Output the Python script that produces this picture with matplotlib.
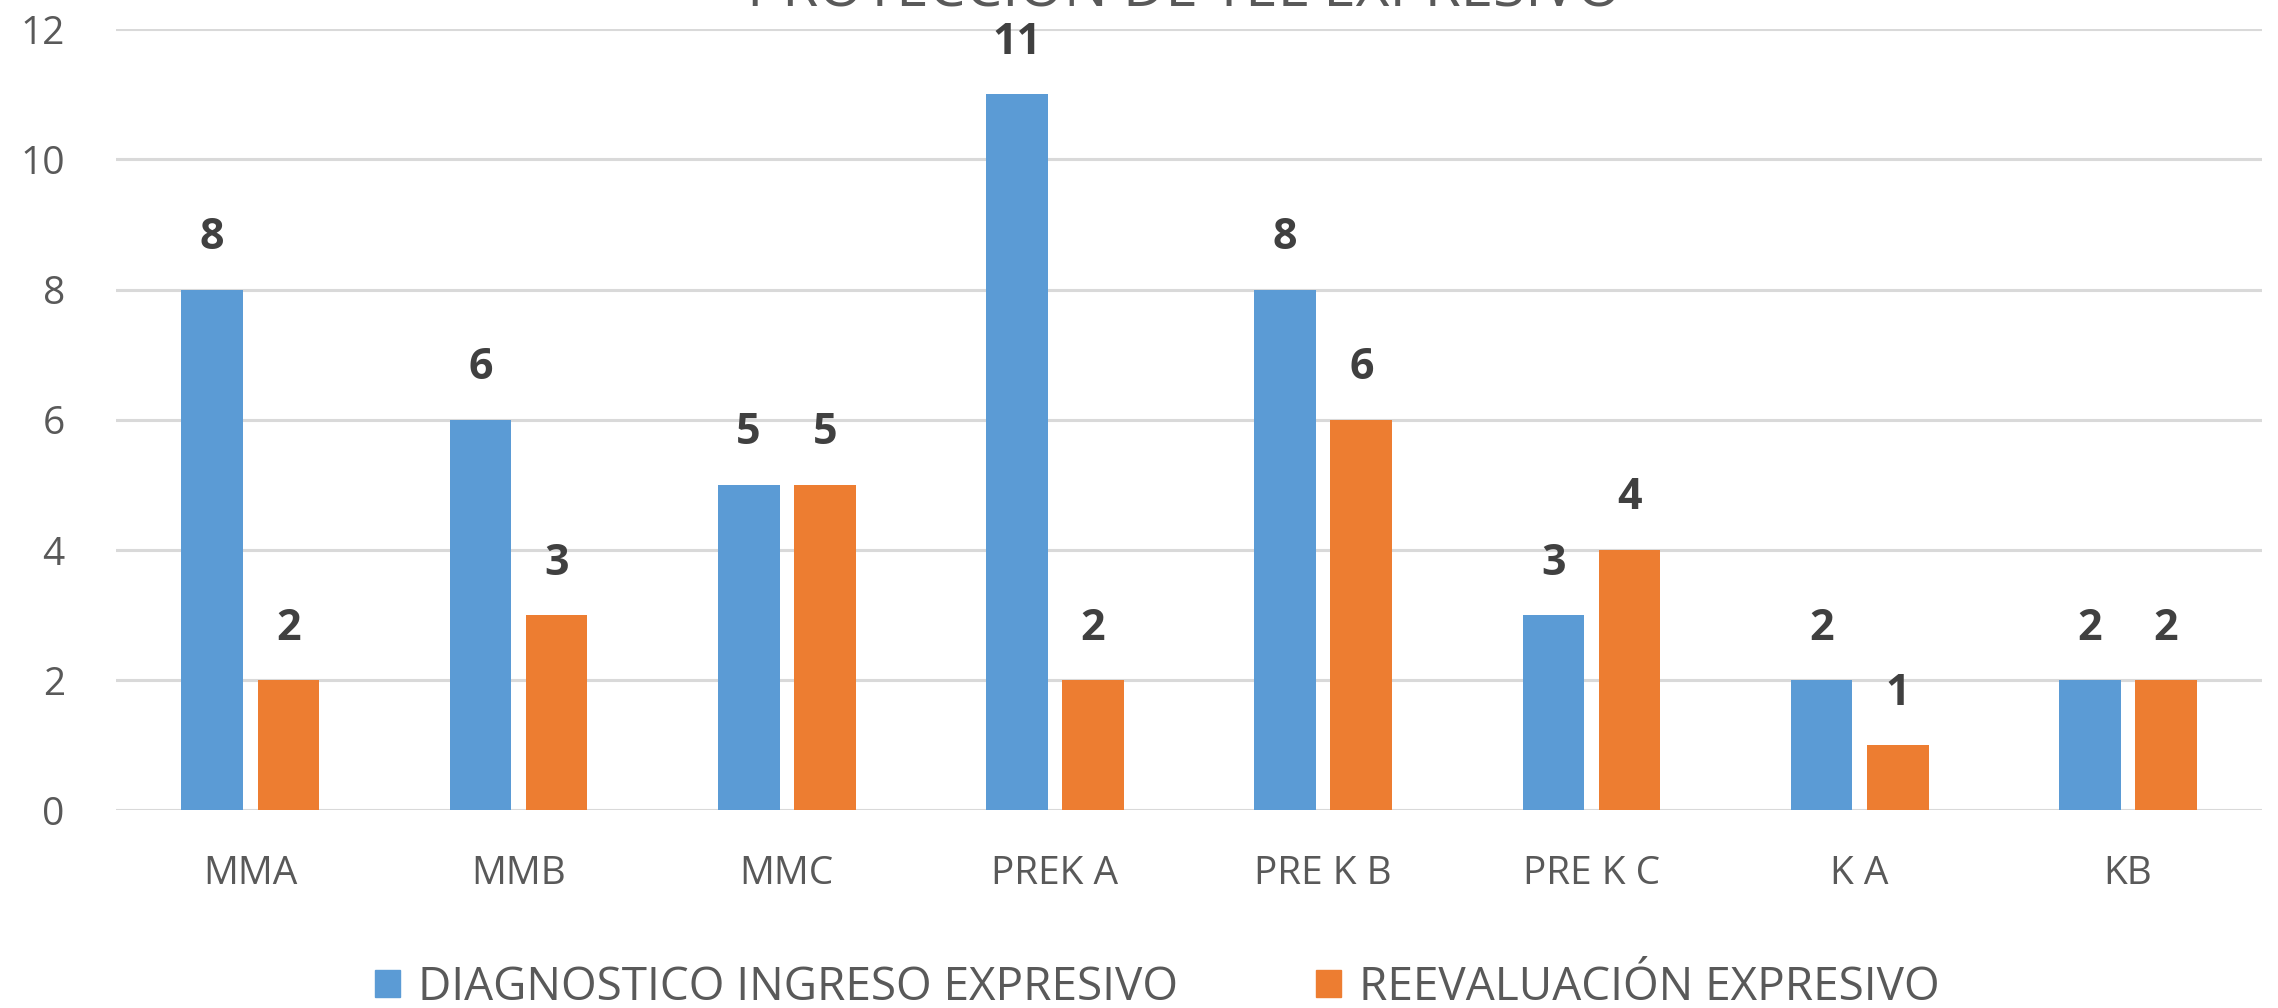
import numpy as np
import matplotlib.pyplot as plt
from matplotlib.patches import Patch

plt.rcParams['font.family'] = ['Open Sans', 'DejaVu Sans']

categorias = ['MMA', 'MMB', 'MMC', 'PREK A', 'PRE K B', 'PRE K C', 'K A', 'KB']
diagnostico = [8, 6, 5, 11, 8, 3, 2, 2]
reevaluacion = [2, 3, 5, 2, 6, 4, 1, 2]
series = ['DIAGNOSTICO INGRESO EXPRESIVO', 'REEVALUACIÓN EXPRESIVO']
titulo = 'PROYECCIÓN DE TEL EXPRESIVO'

azul = '#5B9BD5'
naranja = '#ED7D31'

fig = plt.figure(figsize=(22.78, 10.08), dpi=100)
ax = fig.add_axes([0.051, 0.196, 0.942, 0.775])

x = np.arange(len(categorias))
w = 0.23
off = 0.142
b1 = ax.bar(x - off, diagnostico, w, color=azul, zorder=3)
b2 = ax.bar(x + off, reevaluacion, w, color=naranja, zorder=3)

for bars in (b1, b2):
    for b in bars:
        ax.annotate(f'{int(b.get_height())}',
                    (b.get_x() + b.get_width() / 2, b.get_height()),
                    xytext=(0, 22), textcoords='offset points',
                    ha='center', va='bottom', fontsize=31,
                    fontweight='bold', color='#404040')

ax.set_xlim(-0.5, len(categorias) - 0.5)
ax.set_ylim(0, 12)
ax.set_yticks(range(0, 13, 2))
ax.set_xticks(x)
ax.set_xticklabels(categorias)
ax.grid(axis='y', color='#D9D9D9', linewidth=2.2, zorder=0)
ax.tick_params(axis='both', length=0, labelsize=28, colors='#595959')
ax.tick_params(axis='x', pad=32)
ax.tick_params(axis='y', pad=37)
for s in ax.spines.values():
    s.set_visible(False)

# titulo cortado arriba, como en la imagen
fig.text(0.52, 0.994, titulo, ha='center', va='baseline',
         fontsize=42, color='#595959')

handles = [Patch(color=azul), Patch(color=naranja)]
fig.legend(handles, series, loc='center', bbox_to_anchor=(0.508, 0.02),
           ncol=2, frameon=False, fontsize=33, labelcolor='#595959',
           handlelength=0.55, handleheight=0.55, handletextpad=0.4,
           columnspacing=3.0)

fig.savefig('out.png', dpi=100)
